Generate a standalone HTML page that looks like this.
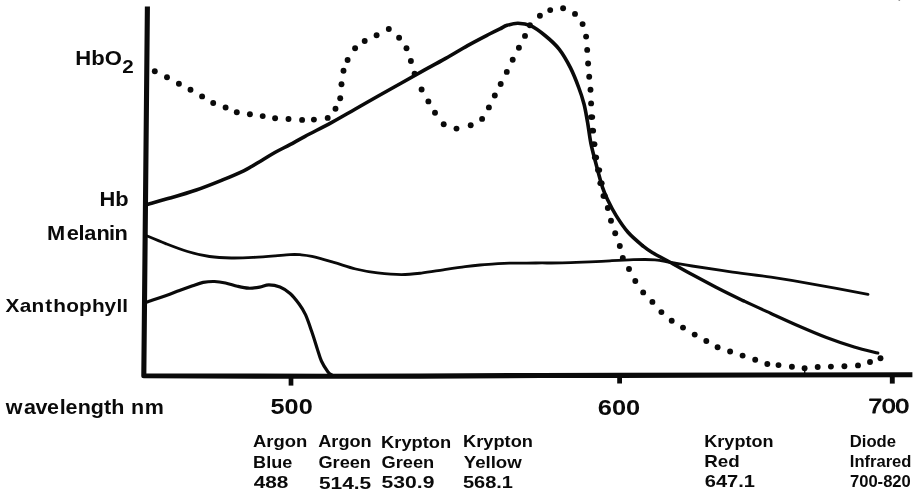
<!DOCTYPE html>
<html><head><meta charset="utf-8"><title>Absorption spectra</title>
<style>
html,body{margin:0;padding:0;background:#fff;}
body{width:913px;height:494px;overflow:hidden;position:relative;}
svg{position:absolute;left:0;top:0;display:block;}
text{font-family:"Liberation Sans",sans-serif;font-weight:bold;fill:#0a0a0a;}
.ln{fill:none;stroke:#0a0a0a;stroke-linecap:round;stroke-linejoin:round;}
</style></head><body>
<svg width="913" height="494" viewBox="0 0 913 494">
<rect id="bg" x="0" y="0" width="913" height="494" fill="#ffffff"/>
<path class="ln" style="stroke-linecap:butt" stroke-width="5.1" d="M147.4 6.6L143.8 375.8L330 376.3L420 376.1L540 375.5L619 375.4L912.4 374.7"/>
<path class="ln" style="stroke-linecap:butt" stroke-width="4.7" d="M291.0 375L291.0 385.6"/>
<path class="ln" style="stroke-linecap:butt" stroke-width="4.8" d="M619.6 375L619.6 383.5"/>
<path class="ln" style="stroke-linecap:butt" stroke-width="4.9" d="M892.3 375L892.3 383.6"/>
<path class="ln" stroke-width="3.6" d="M147.1 204.4C150.9 203.3 161.8 200.5 170.0 198.1C178.2 195.7 187.5 193.0 196.3 190.0C205.1 187.0 214.7 183.1 222.6 179.9C230.5 176.7 238.8 173.1 243.7 170.8C248.6 168.5 248.9 168.0 252.0 166.2C255.1 164.4 258.2 162.5 262.1 160.2C266.0 157.9 270.7 154.9 275.3 152.3C279.9 149.7 285.0 147.3 290.0 144.6C295.0 141.9 298.2 140.0 305.1 136.3C312.0 132.6 323.1 127.1 331.4 122.6C339.7 118.1 346.9 113.8 355.0 109.2C363.1 104.6 372.2 99.4 380.0 95.0C387.8 90.6 394.6 86.8 401.9 82.7C409.2 78.6 416.5 74.5 423.8 70.4C431.1 66.4 438.4 62.5 445.7 58.4C453.0 54.3 460.3 49.7 467.6 45.6C474.9 41.5 484.1 36.8 489.5 34.0C494.9 31.2 497.1 30.2 500.0 28.8C502.9 27.4 504.1 26.2 507.1 25.3C510.1 24.4 514.1 23.2 518.0 23.3C521.9 23.4 526.0 23.7 530.5 25.7C535.0 27.7 540.2 31.6 545.0 35.5C549.8 39.4 555.0 43.9 559.3 49.3C563.5 54.7 567.3 61.5 570.5 67.9C573.7 74.3 576.5 81.5 578.7 87.5C581.0 93.5 582.5 98.3 584.0 104.0C585.5 109.7 586.3 115.3 587.5 121.9C588.7 128.5 589.5 136.5 591.0 143.8C592.5 151.1 594.6 158.4 596.5 165.7C598.4 173.0 600.7 181.8 602.6 187.6C604.5 193.4 605.8 195.9 608.0 200.5C610.2 205.1 612.7 210.1 616.0 215.4C619.3 220.7 623.6 227.3 628.0 232.3C632.4 237.3 638.4 242.2 642.5 245.6"/>
<path class="ln" stroke-width="3.4" d="M642.5 245.6C646.6 249.0 647.9 249.8 652.6 252.7C657.4 255.6 664.4 259.1 671.0 262.8C677.6 266.5 684.7 270.6 692.1 274.6C699.5 278.6 707.0 282.6 715.5 287.0C724.0 291.4 734.0 296.3 743.2 300.7"/>
<path class="ln" stroke-width="3.1" d="M743.2 300.7C752.5 305.1 761.8 309.3 771.0 313.5C780.2 317.7 789.5 322.0 798.7 326.0C807.9 330.0 817.1 334.0 826.4 337.5C835.6 341.0 845.6 344.4 854.2 347.0C862.8 349.6 873.9 352.0 877.8 353.0"/>
<path class="ln" style="stroke-linecap:butt" stroke-width="1.4" d="M804.7 369.5L804.7 373.5"/>
<path class="ln" stroke-width="2.8" d="M147.1 236.0C150.2 237.3 158.9 241.0 165.7 243.6C172.4 246.2 180.3 249.3 187.6 251.5C194.9 253.7 202.2 255.4 209.5 256.5C216.8 257.6 224.1 257.9 231.4 258.0C238.7 258.1 246.0 257.8 253.3 257.4C260.6 257.0 269.1 256.3 275.2 255.8C281.3 255.3 285.9 254.8 290.0 254.6C294.1 254.4 296.4 254.4 300.0 254.7C303.6 255.0 306.3 255.1 311.9 256.4C317.5 257.7 326.5 260.3 333.8 262.4C341.1 264.5 348.4 267.2 355.7 269.0C363.0 270.8 370.0 272.0 377.6 272.9C385.2 273.8 394.2 274.6 401.5 274.6C408.8 274.6 414.4 273.9 421.4 273.1C428.4 272.3 436.0 270.9 443.3 269.8C450.6 268.7 459.1 267.4 465.2 266.6C471.3 265.8 475.0 265.4 480.0 265.0C485.0 264.6 490.1 264.2 495.0 263.9C499.9 263.6 502.7 263.3 509.5 263.2C516.3 263.1 527.0 263.1 535.8 263.0C544.6 262.9 553.1 263.1 562.1 262.9C571.1 262.7 582.0 262.2 590.0 261.9C598.0 261.5 602.8 261.2 610.0 260.8C617.2 260.4 625.8 259.9 633.3 259.7C640.8 259.5 648.7 259.3 655.0 259.8C661.3 260.3 664.8 261.5 671.0 262.5C677.2 263.5 682.4 264.5 692.1 266.0C701.8 267.5 716.1 269.7 729.3 271.6C742.4 273.5 757.1 275.1 771.0 277.2C784.9 279.3 796.4 281.2 812.6 284.1C828.8 287.0 858.8 292.7 868.0 294.4"/>
<path class="ln" stroke-width="3.2" d="M147.1 302.0C150.3 300.9 160.9 297.4 166.3 295.5C171.7 293.6 175.1 292.1 179.5 290.5C183.9 288.9 188.7 287.2 192.6 285.8C196.5 284.4 199.5 283.1 203.2 282.4C206.8 281.7 210.8 281.4 214.5 281.5C218.2 281.6 221.7 282.2 225.5 283.0C229.3 283.8 233.6 285.3 237.4 286.2C241.2 287.1 244.8 288.0 248.5 288.2C252.2 288.4 256.3 287.7 259.7 287.1C263.1 286.5 265.5 284.8 268.9 284.8C272.3 284.8 276.5 285.6 280.0 287.0C283.5 288.4 286.9 290.7 290.1 293.5C293.3 296.3 296.5 300.5 299.1 304.0C301.7 307.5 303.4 310.1 305.5 314.7C307.6 319.3 309.9 326.3 311.8 331.8C313.7 337.3 315.4 343.0 317.0 347.9C318.6 352.8 319.6 357.0 321.4 361.0C323.2 365.0 326.3 369.7 328.0 372.0C329.7 374.3 330.9 374.3 331.5 374.8"/>
<rect x="898.5" y="0" width="1.6" height="1" fill="#9a9a9a"/>
<g fill="#0a0a0a">
<circle cx="154.8" cy="71.2" r="2.95"/><circle cx="167.0" cy="77.3" r="2.95"/><circle cx="178.9" cy="83.7" r="2.95"/><circle cx="190.5" cy="89.8" r="2.95"/><circle cx="202.1" cy="96.4" r="2.95"/><circle cx="213.2" cy="103.0" r="2.95"/><circle cx="225.6" cy="107.5" r="2.95"/><circle cx="236.8" cy="112.2" r="2.95"/><circle cx="249.9" cy="114.2" r="2.95"/><circle cx="262.7" cy="116.1" r="2.95"/><circle cx="275.1" cy="118.3" r="2.95"/><circle cx="288.5" cy="119.0" r="2.95"/><circle cx="302.1" cy="119.9" r="2.95"/><circle cx="313.9" cy="119.6" r="2.95"/><circle cx="327.7" cy="117.9" r="2.95"/><circle cx="335.5" cy="108.8" r="2.95"/><circle cx="340.2" cy="98.2" r="2.95"/><circle cx="341.5" cy="84.2" r="2.95"/><circle cx="343.5" cy="70.8" r="2.95"/><circle cx="347.6" cy="60.0" r="2.95"/><circle cx="355.1" cy="48.2" r="2.95"/><circle cx="364.7" cy="41.0" r="2.95"/><circle cx="376.6" cy="35.3" r="2.95"/><circle cx="388.8" cy="29.0" r="2.95"/><circle cx="399.1" cy="37.7" r="2.95"/><circle cx="406.5" cy="48.2" r="2.95"/><circle cx="410.9" cy="61.0" r="2.95"/><circle cx="414.6" cy="73.6" r="2.95"/><circle cx="421.6" cy="89.5" r="2.95"/><circle cx="428.4" cy="101.4" r="2.95"/><circle cx="435.0" cy="112.8" r="2.95"/><circle cx="443.7" cy="124.2" r="2.95"/><circle cx="456.5" cy="128.6" r="2.95"/><circle cx="470.7" cy="125.3" r="2.95"/><circle cx="482.1" cy="118.9" r="2.95"/><circle cx="488.9" cy="107.4" r="2.95"/><circle cx="494.8" cy="95.5" r="2.95"/><circle cx="500.7" cy="84.0" r="2.95"/><circle cx="506.8" cy="71.9" r="2.95"/><circle cx="512.7" cy="59.8" r="2.95"/><circle cx="518.9" cy="47.8" r="2.95"/><circle cx="525.0" cy="35.9" r="2.95"/><circle cx="529.9" cy="25.2" r="2.95"/><circle cx="539.9" cy="15.8" r="2.95"/><circle cx="550.2" cy="10.1" r="2.95"/><circle cx="563.1" cy="8.3" r="2.95"/><circle cx="575.0" cy="13.9" r="2.95"/><circle cx="582.6" cy="24.1" r="2.95"/><circle cx="586.1" cy="36.6" r="2.95"/><circle cx="587.2" cy="49.9" r="2.95"/><circle cx="588.1" cy="63.5" r="2.95"/><circle cx="589.2" cy="76.7" r="2.95"/><circle cx="590.5" cy="89.8" r="2.95"/><circle cx="591.1" cy="103.4" r="2.95"/><ellipse cx="591.6" cy="117.1" rx="3.6" ry="2.9"/><ellipse cx="592.5" cy="130.7" rx="3.6" ry="2.9"/><ellipse cx="593.8" cy="144.2" rx="3.6" ry="2.9"/><ellipse cx="595.5" cy="157.4" rx="3.6" ry="2.9"/><ellipse cx="598.6" cy="170.1" rx="3.6" ry="2.9"/><ellipse cx="601.0" cy="183.2" rx="3.6" ry="2.9"/><ellipse cx="604.1" cy="196.0" rx="3.6" ry="2.9"/><circle cx="607.8" cy="208.0" r="2.95"/><circle cx="611.0" cy="220.8" r="2.95"/><circle cx="615.2" cy="233.3" r="2.95"/><circle cx="619.8" cy="246.0" r="2.95"/><circle cx="622.8" cy="258.0" r="2.95"/><circle cx="629.0" cy="269.0" r="2.95"/><circle cx="635.3" cy="281.0" r="2.95"/><circle cx="643.2" cy="292.4" r="2.95"/><circle cx="652.4" cy="301.9" r="2.95"/><circle cx="661.4" cy="312.1" r="2.95"/><circle cx="671.7" cy="320.7" r="2.95"/><circle cx="683.0" cy="327.6" r="2.95"/><circle cx="694.7" cy="334.6" r="2.95"/><circle cx="706.3" cy="341.0" r="2.95"/><circle cx="717.6" cy="347.2" r="2.95"/><circle cx="730.1" cy="351.5" r="2.95"/><circle cx="742.6" cy="355.6" r="2.95"/><circle cx="755.2" cy="359.8" r="2.95"/><circle cx="767.3" cy="364.0" r="2.95"/><circle cx="778.5" cy="365.1" r="2.95"/><circle cx="791.9" cy="366.8" r="2.95"/><circle cx="804.6" cy="368.3" r="2.95"/><circle cx="817.7" cy="367.0" r="2.95"/><circle cx="830.9" cy="366.6" r="2.95"/><circle cx="844.4" cy="366.2" r="2.95"/><circle cx="858.0" cy="365.4" r="2.95"/><circle cx="870.0" cy="362.0" r="2.95"/><circle cx="880.5" cy="358.2" r="2.95"/>
</g>
<text id="t_hbo2" y="64.7" font-size="20.6"><tspan x="75.39" textLength="46.57" lengthAdjust="spacingAndGlyphs">HbO</tspan><tspan x="122.34" y="73.2" font-size="17.5" textLength="11.47" lengthAdjust="spacingAndGlyphs">2</tspan></text>
<text id="t0" x="99.46" y="206.2" font-size="19.3" textLength="29.15" lengthAdjust="spacingAndGlyphs">Hb</text>
<text id="t1" transform="scale(1.1307,1)" x="41.62 58.97 69.32 74.55 85.38 96.47 101.25" y="239.8" font-size="19.3">Melanin</text>
<text id="t2" transform="scale(1.0828,1)" x="5.14 18.24 29.19 41.73 49.24 61.09 73.05 85.08 96.46 107.66 112.97" y="311.6" font-size="19.2">Xanthophyll</text>
<text id="t3" transform="scale(1.1077,1)" x="5.10 21.57 31.98 42.41 53.87 59.24 70.14 82.03 93.95 100.53 112.38 118.26 130.59" y="413.8" font-size="19.4">wavelength nm</text>
<text id="t4" x="270.52" y="414.4" font-size="21.5" textLength="42.19" lengthAdjust="spacingAndGlyphs">500</text>
<text id="t5" x="597.85" y="414.6" font-size="21.7" textLength="42.42" lengthAdjust="spacingAndGlyphs">600</text>
<text id="t6" x="868.56" y="412.9" font-size="20.2" textLength="40.62" lengthAdjust="spacingAndGlyphs" style="font-weight:normal;stroke:#0a0a0a;stroke-width:0.95px;stroke-linejoin:round">700</text>
<text id="t7" x="253.04" y="447.2" font-size="16.3" textLength="54.37" lengthAdjust="spacingAndGlyphs">Argon</text>
<text id="t8" x="253.12" y="467.6" font-size="16.3" textLength="39.16" lengthAdjust="spacingAndGlyphs">Blue</text>
<text id="t9" x="253.75" y="487.7" font-size="17.0" textLength="34.69" lengthAdjust="spacingAndGlyphs">488</text>
<text id="t10" x="318.25" y="447.4" font-size="16.3" textLength="53.46" lengthAdjust="spacingAndGlyphs">Argon</text>
<text id="t11" x="318.44" y="468.2" font-size="16.3" textLength="52.52" lengthAdjust="spacingAndGlyphs">Green</text>
<text id="t12" x="318.94" y="488.5" font-size="17.0" textLength="52.31" lengthAdjust="spacingAndGlyphs">514.5</text>
<text id="t13" x="381.09" y="447.6" font-size="16.3" textLength="70.09" lengthAdjust="spacingAndGlyphs">Krypton</text>
<text id="t14" x="381.51" y="468.3" font-size="16.3" textLength="52.75" lengthAdjust="spacingAndGlyphs">Green</text>
<text id="t15" x="381.57" y="488.4" font-size="17.1" textLength="52.83" lengthAdjust="spacingAndGlyphs">530.9</text>
<text id="t16" x="463.10" y="446.8" font-size="16.3" textLength="69.80" lengthAdjust="spacingAndGlyphs">Krypton</text>
<text id="t17" x="463.74" y="467.7" font-size="16.3" textLength="58.00" lengthAdjust="spacingAndGlyphs">Yellow</text>
<text id="t18" x="462.91" y="488.3" font-size="17.1" textLength="50.08" lengthAdjust="spacingAndGlyphs">568.1</text>
<text id="t19" x="704.30" y="447.0" font-size="16.3" textLength="69.19" lengthAdjust="spacingAndGlyphs">Krypton</text>
<text id="t20" x="704.18" y="466.8" font-size="16.3" textLength="35.44" lengthAdjust="spacingAndGlyphs">Red</text>
<text id="t21" x="704.78" y="487.3" font-size="16.9" textLength="50.25" lengthAdjust="spacingAndGlyphs">647.1</text>
<text id="t22" x="849.80" y="447.0" font-size="15.6" textLength="46.20" lengthAdjust="spacingAndGlyphs">Diode</text>
<text id="t23" x="849.79" y="467.3" font-size="15.6" textLength="61.67" lengthAdjust="spacingAndGlyphs">Infrared</text>
<text id="t24" x="849.95" y="487.4" font-size="15.6" textLength="60.90" lengthAdjust="spacingAndGlyphs">700-820</text>
</svg>
</body></html>
